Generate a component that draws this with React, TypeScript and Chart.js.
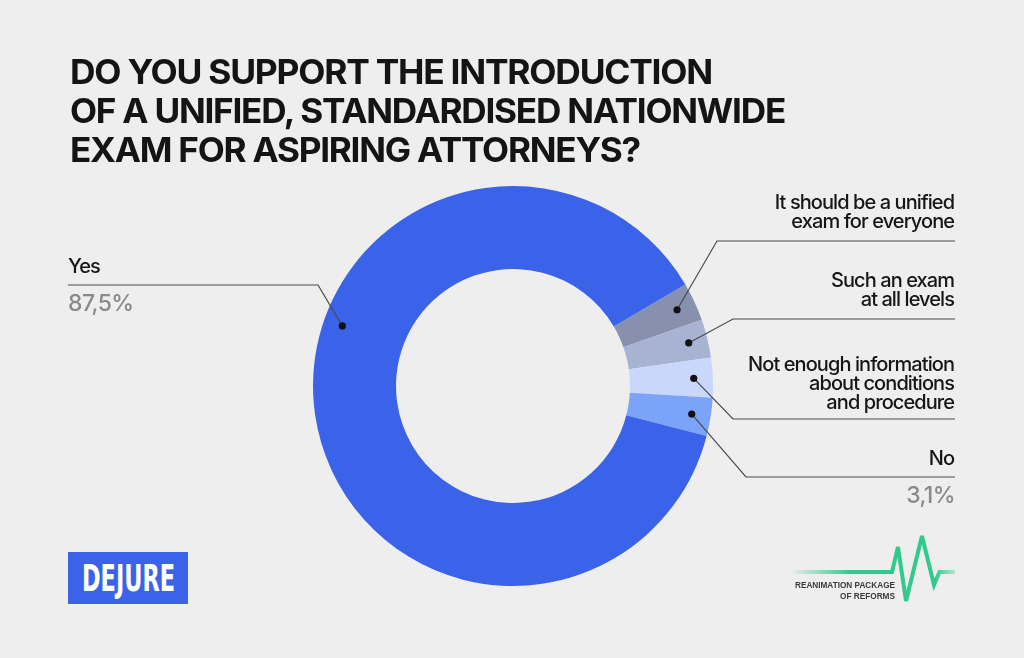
import React, { useEffect, useLayoutEffect, useRef } from "react";
import { Chart, registerables } from "chart.js";

Chart.register(...registerables);

// ---------- data ----------
const categories: string[][] = [
  ["It should be a unified", "exam for everyone"],
  ["Such an exam", "at all levels"],
  ["Not enough information", "about conditions", "and procedure"],
  ["No"],
  ["Yes"],
];
const shares = [3.1, 3.1, 3.2, 3.1, 87.5];
const shareLabels = ["", "", "", "3,1%", "87,5%"];
const sliceColors = ["#8790AE", "#A8B2D3", "#C8D7FA", "#7BA3F7", "#3B63EA"];
const titleLines = [
  "DO YOU SUPPORT THE INTRODUCTION",
  "OF A UNIFIED, STANDARDISED NATIONWIDE",
  "EXAM FOR ASPIRING ATTORNEYS?",
];

// ---------- layout (positions / styles only) ----------
type Side = "left" | "right";
const labelLayout: { side: Side; lineY: number; elbowX: number; gap: number; frac: number }[] = [
  { side: "right", lineY: 241, elbowX: 717, gap: 13, frac: 0.5 },
  { side: "right", lineY: 319, elbowX: 733, gap: 13, frac: 0.5 },
  { side: "right", lineY: 419, elbowX: 733, gap: 10, frac: 0.5 },
  { side: "right", lineY: 477, elbowX: 746, gap: 12, frac: 0.5 },
  { side: "left", lineY: 285, elbowX: 318, gap: 12, frac: 0.587 },
];
const RIGHT_X = 955;
const LEFT_X = 68;
const BG = "#EFEEEE";
const LABEL_FONT = "500 20px Inter";
const LABEL_REF_TEXT = "Not enough information";
const LABEL_REF_WIDTH = 206;
const TITLE_LEFT = 70;
const TITLE_RIGHTS = [712, 785, 640];
const TITLE_BASELINES = [84.5, 123, 162];

const leaderPlugin = {
  id: "leaders",
  afterDatasetsDraw(chart: any) {
    const ctx: CanvasRenderingContext2D = chart.ctx;
    const meta = chart.getDatasetMeta(0);
    ctx.save();
    ctx.font = LABEL_FONT;
    (ctx as any).letterSpacing = "0px";
    const natural = ctx.measureText(LABEL_REF_TEXT).width;
    const ls = (LABEL_REF_WIDTH - natural) / LABEL_REF_TEXT.length;
    meta.data.forEach((arc: any, i: number) => {
      const lay = labelLayout[i];
      const p = arc.getProps(["x", "y", "startAngle", "endAngle", "innerRadius", "outerRadius"], true);
      const a = p.startAngle + (p.endAngle - p.startAngle) * lay.frac;
      const r = p.innerRadius + (p.outerRadius - p.innerRadius) * 0.77;
      const dx = p.x + Math.cos(a) * r;
      const dy = p.y + Math.sin(a) * r;
      const endX = lay.side === "right" ? RIGHT_X : LEFT_X;
      ctx.strokeStyle = "#4a4a4a";
      ctx.lineWidth = 1.2;
      ctx.beginPath();
      ctx.moveTo(dx, dy);
      ctx.lineTo(lay.elbowX, lay.lineY);
      ctx.lineTo(endX, lay.lineY);
      ctx.stroke();
      ctx.fillStyle = "#111";
      ctx.beginPath();
      ctx.arc(dx, dy, 3.6, 0, Math.PI * 2);
      ctx.fill();

      // label text
      const lines = categories[i];
      ctx.fillStyle = "#161616";
      ctx.font = LABEL_FONT;
      (ctx as any).letterSpacing = ls.toFixed(2) + "px";
      ctx.textAlign = lay.side === "right" ? "right" : "left";
      ctx.textBaseline = "alphabetic";
      const lastBase = lay.lineY - lay.gap;
      lines.forEach((t, k) => {
        ctx.fillText(t, endX + (lay.side === "right" ? ls : 0), lastBase - (lines.length - 1 - k) * 19);
      });
      if (shareLabels[i]) {
        ctx.fillStyle = "#8A8A8A";
        ctx.font = "500 23px Inter";
        (ctx as any).letterSpacing = "-0.6px";
        ctx.fillText(shareLabels[i], endX, lay.lineY + 26);
      }
    });
    ctx.restore();
  },
};

function FitText(props: {
  text: string;
  left: number;
  top: number;
  width: number;
  font: string;
  lineHeight: string;
  color: string;
  letterSpacing?: string;
}) {
  const ref = useRef<HTMLDivElement>(null);
  useLayoutEffect(() => {
    const el = ref.current;
    if (!el) return;
    el.style.transform = "none";
    const w = el.getBoundingClientRect().width;
    if (w > 0) el.style.transform = `scaleX(${props.width / w})`;
  });
  return (
    <div
      ref={ref}
      style={{
        position: "absolute",
        left: props.left,
        top: props.top,
        font: props.font,
        lineHeight: props.lineHeight,
        color: props.color,
        letterSpacing: props.letterSpacing,
        whiteSpace: "pre",
        transformOrigin: "0 0",
      }}
    >
      {props.text}
    </div>
  );
}

export default function App() {
  const canvasRef = useRef<HTMLCanvasElement>(null);

  useEffect(() => {
    const canvas = canvasRef.current;
    if (!canvas) return;
    const chart = new Chart(canvas, {
      type: "doughnut",
      data: {
        labels: categories.map((c) => c.join(" ")),
        datasets: [
          {
            data: shares,
            backgroundColor: sliceColors,
            borderWidth: 0,
            hoverOffset: 0,
          },
        ],
      },
      options: {
        responsive: false,
        animation: false,
        devicePixelRatio: 1,
        rotation: 59.5,
        cutout: "58.5%",
        layout: { padding: { top: 186, bottom: 72, left: 313, right: 311 } },
        plugins: { legend: { display: false }, tooltip: { enabled: false } },
        events: [],
      },
      plugins: [leaderPlugin],
    });
    return () => chart.destroy();
  }, []);

  return (
    <div
      style={{
        position: "fixed",
        left: 0,
        top: 0,
        width: 1024,
        height: 658,
        background: BG,
        overflow: "hidden",
      }}
    >
      <canvas ref={canvasRef} width={1024} height={658} style={{ position: "absolute", left: 0, top: 0 }} />
      {titleLines.map((t, i) => (
        <FitText
          key={i}
          text={t}
          left={TITLE_LEFT}
          top={TITLE_BASELINES[i] - 29.3}
          width={TITLE_RIGHTS[i] - TITLE_LEFT}
          font="700 34px Inter"
          lineHeight="34px"
          letterSpacing="-1.2px"
          color="#141414"
        />
      ))}
      {/* DEJURE logo */}
      <div style={{ position: "absolute", left: 68, top: 552, width: 120, height: 52, background: "#3B63EA" }} />
      <FitText
        text="DEJURE"
        left={82}
        top={560}
        width={93}
        font="700 37px 'DejaVu Sans Condensed'"
        lineHeight="37px"
        color="#FFFFFF"
      />
      {/* Reanimation package logo */}
      <svg width={1024} height={658} style={{ position: "absolute", left: 0, top: 0 }}>
        <defs>
          <linearGradient id="rpr" x1="793" y1="0" x2="955" y2="0" gradientUnits="userSpaceOnUse">
            <stop offset="0" stopColor="#31CA8E" stopOpacity="0.05" />
            <stop offset="0.35" stopColor="#31CA8E" stopOpacity="1" />
            <stop offset="0.88" stopColor="#31CA8E" stopOpacity="1" />
            <stop offset="1" stopColor="#31CA8E" stopOpacity="0.3" />
          </linearGradient>
        </defs>
        <polyline
          points="793,572 892,572 898,547 906,601 922,536 934,585 939.5,572 955,572"
          fill="none"
          stroke="url(#rpr)"
          strokeWidth={4}
          strokeLinejoin="miter"
        />
      </svg>
      <FitText
        text="REANIMATION PACKAGE"
        left={795}
        top={579.5}
        width={100}
        font="700 9.5px 'Liberation Sans'"
        lineHeight="10px"
        color="#3A3A3A"
      />
      <FitText
        text="OF REFORMS"
        left={840}
        top={590.5}
        width={55}
        font="700 9.5px 'Liberation Sans'"
        lineHeight="10px"
        color="#3A3A3A"
      />
    </div>
  );
}
